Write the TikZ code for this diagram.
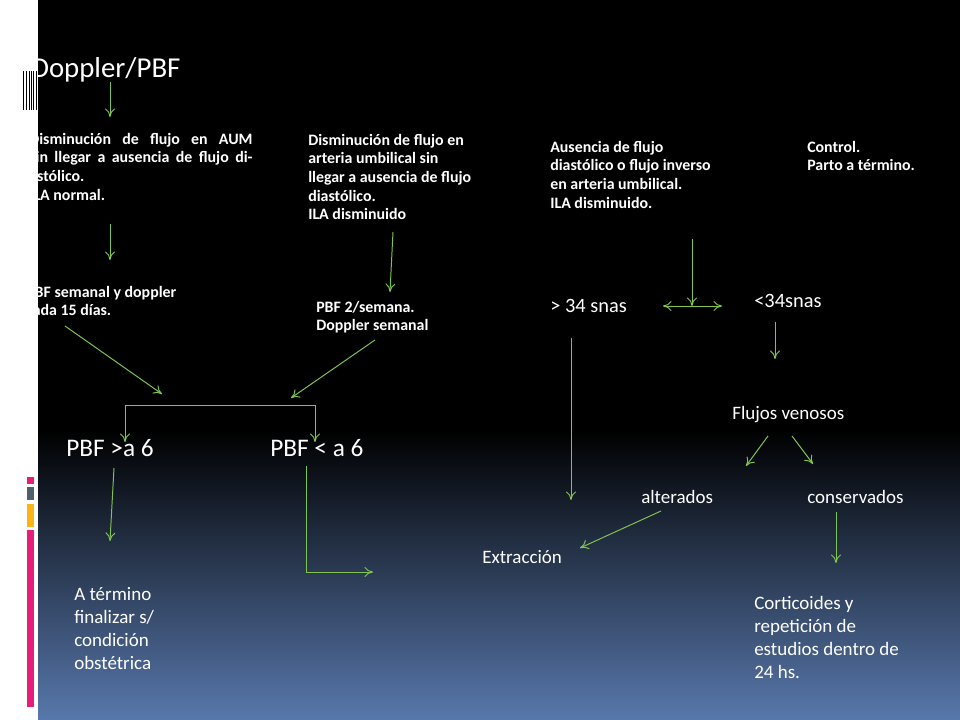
\documentclass[tikz,border=0pt]{standalone}
\usepackage{fontspec}
\setmainfont{Carlito}
\newfontfamily\oldnum[Numbers=OldStyle]{Carlito}
\usetikzlibrary{arrows.meta}
\definecolor{arrowgreen}{RGB}{128,196,80}
\definecolor{slateblue}{RGB}{88,120,172}
\definecolor{barpink}{RGB}{230,30,120}
\definecolor{bargray}{RGB}{80,95,110}
\definecolor{baryellow}{RGB}{250,180,20}

\begin{document}
\begin{tikzpicture}[x=0.025cm, y=-0.025cm, >={To[length=6pt,width=7pt]},
  link/.style={->, draw=arrowgreen, line width=0.7pt},
  small/.style={anchor=north west, inner sep=0pt, text=white, font=\fontsize{11.3}{13.2}\selectfont\bfseries, align=left},
  big/.style={anchor=west, inner sep=0pt, text=white, font=\fontsize{18}{20}\selectfont},
  mid/.style={anchor=north west, inner sep=0pt, text=white, font=\fontsize{13.5}{16.3}\selectfont, align=left},
  lab/.style={anchor=west, inner sep=0pt, text=white, font=\fontsize{13.5}{16}\selectfont}]

  % background
  \useasboundingbox (0,0) rectangle (960,720);
  \fill[black] (38,0) rectangle (960,430);
  \shade[top color=black, bottom color=slateblue] (38,430) rectangle (960,720);

  % left column
  \node[big, font=\fontsize{20.5}{22}\selectfont] (doppler) at (31,70) {Doppler/PBF};
  \node[small, text width=5.58cm, align=justify] (aum) at (29,133) {Disminución de flujo en AUM sin llegar a ausencia de flujo diastólico.\\ILA normal.};
  \node[small] (semanal) at (26,286) {PBF semanal y doppler\\cada 15 días.};

  % middle column
  \node[small] (umbil) at (308,134) {Disminución de flujo en\\arteria umbilical sin\\llegar a ausencia de flujo\\diastólico.\\ILA disminuido};
  \node[small] (dos) at (316,301) {PBF 2/semana.\\Doppler semanal};
  \node[big] (mayor) at (66,448) {PBF >a 6};
  \node[big] (menor) at (270,448) {PBF < a 6};
  \node[mid] (termino) at (74,587) {A término\\finalizar s/\\condición\\obstétrica};

  % right column
  \node[small] (ausencia) at (550,141) {Ausencia de flujo\\diastólico o flujo inverso\\en arteria umbilical.\\ILA disminuido.};
  \node[small] (control) at (807,141) {Control.\\Parto a término.};
  \node[lab, font=\fontsize{14.5}{16}\selectfont] (mas34) at (550,306) {> 34 snas};
  \node[lab, font=\fontsize{14.5}{16}\selectfont] (menos34) at (754,301) {<34snas};
  \node[lab] (venosos) at (732,415) {Flujos venosos};
  \node[lab] (alterados) at (641,497) {alterados};
  \node[lab] (conservados) at (807,497) {conservados};
  \node[lab] (extraccion) at (482,557) {Extracción};
  \node[mid] (corti) at (754,596) {Corticoides y\\repetición de\\estudios dentro de\\24 hs.};

  % arrows
  \draw[link] (110,82) -- (110,117);
  \draw[link] (110,224) -- (110,260);
  \draw[link] (393,232) -- (390,292);
  \draw[link] (65,326) -- (162,394);
  \draw[link] (375,340) -- (291,398);
  \draw[link] (125,432) -- (125,405) -- (315,405) -- (315,442);
  \draw[link, <-] (125,442) -- (125,430);
  \draw[link] (114,468) -- (110,541);
  \draw[link] (306,466) -- (306,572) -- (373,572);
  \draw[link] (692,239) -- (692,306);
  \draw[link] (692,306) -- (663,306);
  \draw[link] (692,306) -- (722,306);
  \draw[link] (571,338) -- (571,500);
  \draw[link] (775,322) -- (775,359);
  \draw[link] (768,436) -- (746,466);
  \draw[link] (792,436) -- (813,464);
  \draw[link] (661,511) -- (580,548);
  \draw[link] (836,512) -- (836,563);

  % white margin strip and marks
  \fill[white] (0,0) rectangle (38,720);
  \foreach \xpos/\wd in {23/1.2, 26/0.8, 28.5/1.5, 31/0.6, 33/1.4, 35.5/0.8}
    \fill[black] (\xpos,71) rectangle (\xpos+\wd,110);
  \fill[barpink] (27,477) rectangle (34,484);
  \fill[bargray] (27,487) rectangle (34,500);
  \fill[baryellow] (27,504) rectangle (34,527);
  \fill[barpink] (27,530) rectangle (34,707);
\end{tikzpicture}
\end{document}
